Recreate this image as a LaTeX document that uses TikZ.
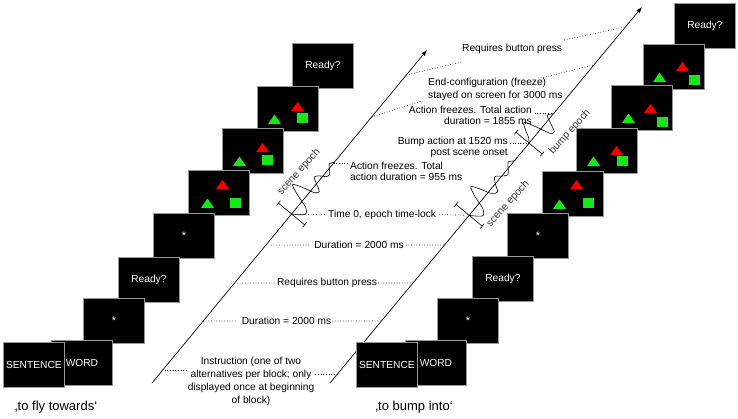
\documentclass[tikz,border=0pt]{standalone}
\usepackage{fontspec}
\setmainfont{Liberation Sans}
\usetikzlibrary{calc,arrows.meta}
\newcommand{\fs}[2]{\fontsize{#1}{#2}\selectfont}
\definecolor{scrborder}{RGB}{150,150,150}
\definecolor{shgreen}{RGB}{25,230,25}
\definecolor{shred}{RGB}{240,0,0}
\newcommand{\scenebox}[8]{%
  \node[screen, anchor=north west] (#1) at (#2,#3) {};
  \fill[shred] ([shift={(#4,#5)}]#1.north west) -- ++(13,0) -- ++(-6.5,-9) -- cycle;
  \fill[shgreen] ([shift={(#8,38)}]#1.north west) -- ++(13,0) -- ++(-6.5,-9.5) -- cycle;
  \fill[shgreen] ([shift={(#6,#7)}]#1.north west) rectangle ++(11,10);
}
\begin{document}
\begin{tikzpicture}[x=1pt,y=-1pt,
  screen/.style={draw=scrborder, fill=black, line width=0.8pt, minimum width=61pt, minimum height=45pt, inner sep=0pt, text=white, font=\fs{10.2}{12}},
  fixscreen/.style={screen, font=\fs{11}{12}, text depth=0pt},
  lbl/.style={inner sep=0pt, font=\fs{10.2}{12}},
  elbl/.style={inner sep=0pt, font=\fs{10.2}{12}, text=black!80},
  leader/.style={dotted, line width=0.65pt},
  tline/.style={line width=0.7pt},
  tick/.style={line width=0.6pt},
  wave/.style={line width=0.6pt},
]
\useasboundingbox (0,0) rectangle (738,418);

% time lines
\coordinate (LA) at (152,383); \coordinate (LB) at (427,50);
\coordinate (RA) at (330,383); \coordinate (RB) at (642,7);
\draw[tline,-{Latex[length=6pt,width=4.5pt]}] (LA) -- (LB);
\draw[tline,-{Latex[length=6pt,width=4.5pt]}] (RA) -- (RB);

% points on the left line
\coordinate (L75)  at ($(LA)!0.925!(LB)$);
\coordinate (L117) at ($(LA)!0.799!(LB)$);
\coordinate (FL)   at ($(LA)!0.661!(LB)$);
\coordinate (P0L)  at ($(LA)!0.5075!(LB)$);
\coordinate (L245) at ($(LA)!0.414!(LB)$);
\coordinate (L283) at ($(LA)!0.300!(LB)$);
\coordinate (L321) at ($(LA)!0.186!(LB)$);
\coordinate (L370) at ($(LA)!0.039!(LB)$);
% points on the right line
\coordinate (R27)  at ($(RA)!0.947!(RB)$);
\coordinate (R65)  at ($(RA)!0.846!(RB)$);
\coordinate (FR)   at ($(RA)!0.718!(RB)$);
\coordinate (BP)   at ($(RA)!0.638!(RB)$);
\coordinate (P0R)  at ($(RA)!0.446!(RB)$);
\coordinate (R245) at ($(RA)!0.367!(RB)$);
\coordinate (R283) at ($(RA)!0.266!(RB)$);
\coordinate (R321) at ($(RA)!0.165!(RB)$);
\coordinate (R374) at ($(RA)!0.024!(RB)$);

% epoch markers and waveforms
\begin{scope}[shift={(P0L)}, rotate=50.4]
  \draw[tick] (0,-17) -- (0,17) (-3,-17) -- (3,-17) (-3,17) -- (3,17);
  \draw[wave] plot[smooth] coordinates {(0,0) (4,6) (9,11) (14,7) (18,-6) (23,-18) (27,-10) (31,4) (35,7) (39,0) (43,-6) (47,-3) (51,3) (55,4) (59,0) (63,-3) (67,0)};
\end{scope}
\begin{scope}[shift={(P0R)}, rotate=50.3]
  \draw[tick] (0,-17) -- (0,17) (-3,-17) -- (3,-17) (-3,17) -- (3,17);
  \draw[wave] plot[smooth] coordinates {(0,0) (4,6) (9,11) (14,6) (18,-7) (23,-17) (27,-9) (31,3) (36,7) (41,0) (46,-5) (51,0) (56,4) (61,0) (66,-4) (71,0) (75,0)};
\end{scope}
\begin{scope}[shift={(BP)}, rotate=50.3]
  \draw[tick] (0,-17) -- (0,17) (-3,-17) -- (3,-17) (-3,17) -- (3,17);
  \draw[wave] plot[smooth] coordinates {(0,0) (4,-4) (9,-13) (13,-17) (17,-5) (21,10) (25,12) (29,4) (33,-4) (37,-1) (39,0)};
\end{scope}
\node[elbl, rotate=48] (sel) at (299,172) {scene epoch};
\node[elbl, rotate=48] (ser) at (508,204) {scene epoch};
\node[elbl, rotate=48] (bep) at (570,132) {bump epoch};

% labels and leaders
\node[lbl, anchor=west] (rbtop) at (462,49) {Requires button press};
\draw[leader] (L75) -- ([yshift=-8pt]rbtop.south west);
\draw[leader] ([xshift=2pt,yshift=4pt]rbtop.north east) -- (R27);

\node[lbl, anchor=west, align=left, font=\fs{10.2}{13}] (ec) at (428,89.5) {End-configuration (freeze)\\stayed on screen for 3000 ms};
\draw[leader] (L117) -- ([xshift=-6pt]ec.south west);
\draw[leader] ([xshift=-22pt]ec.north east) -- (R65);

\node[lbl, anchor=east, align=right, font=\fs{10.2}{11.5}] (af) at (532,115.5) {Action freezes. Total action\\duration = 1855 ms};
\draw[leader, shorten >=2pt] (FR) -- (FR -| af.east);

\node[lbl, anchor=east, align=right, font=\fs{10.2}{11}] (ba) at (508,147.5) {Bump action at 1520 ms\\post scene onset};
\draw[leader, shorten >=2pt] (BP) -- (BP -| ba.east);

\node[lbl, anchor=west, align=left, font=\fs{10.2}{11}] (afl) at (350,171.5) {Action freezes. Total\\action duration = 955 ms};
\draw[leader, shorten >=2pt] (FL) -- (FL -| afl.west);

\node[lbl, anchor=west] (t0) at (328,214.5) {Time 0, epoch time-lock};
\draw[leader, shorten <=6pt, shorten >=2pt] (P0L) -- (t0.west);
\draw[leader, shorten <=3pt, shorten >=5pt] (t0.east) -- (P0R);

\node[lbl] (du1) at (359,245) {Duration = 2000 ms};
\draw[leader, shorten >=4pt] (L245) -- (du1.west);
\draw[leader, shorten <=2pt] (du1.east) -- (R245);

\node[lbl] (rbm) at (327,283) {Requires button press};
\draw[leader, shorten >=1pt] (L283) -- (rbm.west);
\draw[leader, shorten <=1pt] (rbm.east) -- (R283);

\node[lbl] (du2) at (286.5,321) {Duration = 2000 ms};
\draw[leader, shorten >=5pt] (L321) -- (du2.west);
\draw[leader, shorten <=1pt] (du2.east) -- (R321);

\node[lbl, align=center, font=\fs{10.2}{13}] (inst) at (251,381.5) {Instruction (one of two\\alternatives per block; only\\displayed once at beginning\\of block)};
\draw[leader, shorten <=2pt, shorten >=1pt] (L370) -- (L370 -| inst.west);
\draw[leader, shorten <=1pt] (R374 -| inst.east) -- (R374);

% left sequence of screens (top first, so lower ones lie on top)
\node[screen, anchor=north west] (lrdy2) at (292,43) {Ready?};
\scenebox{lsc3}{257}{86}{34}{25}{40}{27}{11}
\scenebox{lsc2}{222}{128}{34}{24}{40}{27}{11}
\scenebox{lsc1}{188}{170}{28}{19}{42}{28}{13}
\node[fixscreen, anchor=north west] (lfix2) at (153,213) {*};
\node[screen, anchor=north west] (lrdy1) at (118,257) {Ready?};
\node[fixscreen, anchor=north west] (lfix1) at (83,298) {*};
\node[screen, anchor=north west] (lword) at (51,340) {WORD};
\node[screen, anchor=north west] (lsent) at (3,342) {SENTENCE};

% right sequence of screens
\node[screen, anchor=north west] (rrdy2) at (674,3) {Ready?};
\scenebox{rsc4}{643}{44}{33}{27}{46}{31}{10}
\scenebox{rsc3}{611}{85}{33}{28}{46}{32}{11}
\scenebox{rsc2}{576}{128}{34}{27}{41}{28}{11}
\scenebox{rsc1}{542}{171}{28}{18}{41}{27}{11}
\node[fixscreen, anchor=north west] (rfix2) at (507,213) {*};
\node[screen, anchor=north west] (rrdy1) at (472,256) {Ready?};
\node[fixscreen, anchor=north west] (rfix1) at (437,298) {*};
\node[screen, anchor=north west] (rword) at (405,340) {WORD};
\node[screen, anchor=north west] (rsent) at (356,342) {SENTENCE};

% captions
\node[inner sep=0pt, font=\fs{13}{15}] (cap1) at (56,407) {‚to fly towards‘};
\node[inner sep=0pt, font=\fs{13}{15}] (cap2) at (414,407) {‚to bump into‘};
\end{tikzpicture}
\end{document}
